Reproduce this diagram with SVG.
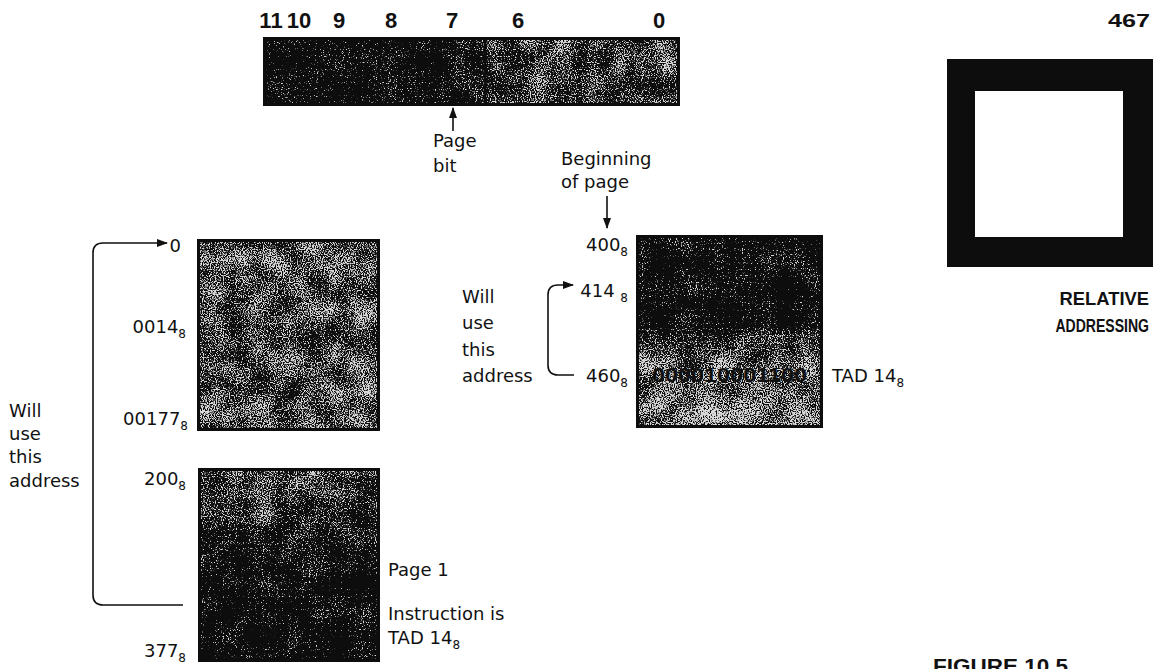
<svg xmlns="http://www.w3.org/2000/svg" width="1159" height="669" viewBox="0 0 1159 669">
<style>
.t{font-family:"DejaVu Sans","Liberation Sans",sans-serif;font-size:18px;fill:#111}
.s{font-size:12px}
.b{font-family:"Liberation Sans",Arial,sans-serif;font-weight:bold;fill:#111}
.ln{fill:none;stroke:#111;stroke-width:1.6}
</style>
<defs>
<marker id="ah" markerUnits="userSpaceOnUse" markerWidth="11" markerHeight="8" refX="10" refY="4" orient="auto">
<path d="M0,0 L11,4 L0,8 z" fill="#111"/>
</marker>
<filter id="grain" x="0" y="0" width="1" height="1" color-interpolation-filters="sRGB">
<feTurbulence type="fractalNoise" baseFrequency="0.85" numOctaves="1" seed="3" result="f0"/>
<feColorMatrix in="f0" type="matrix" values="1 0 0 0 0 0 1 0 0 0 0 0 1 0 0 0 0 0 0 1" result="f"/>
<feTurbulence type="fractalNoise" baseFrequency="0.04" numOctaves="2" seed="8" result="c0"/>
<feColorMatrix in="c0" type="matrix" values="1 0 0 0 0 0 1 0 0 0 0 0 1 0 0 0 0 0 0 1" result="c"/>
<feComposite in="f" in2="c" operator="arithmetic" k2="0.6" k3="0.2" result="t"/>
<feComposite in="t" in2="SourceGraphic" operator="arithmetic" k2="1" k3="0.25" result="u"/>
<feColorMatrix in="u" type="matrix" values="0 0 0 0 0.85 0 0 0 0 0.85 0 0 0 0 0.85 14 0 0 0 -7.3"/>
</filter>
<linearGradient id="gReg" x1="0" y1="0" x2="1" y2="0">
<stop offset="0" stop-color="#262626"/><stop offset="0.5" stop-color="#333"/>
<stop offset="0.53" stop-color="#707070"/><stop offset="1" stop-color="#7a7a7a"/>
</linearGradient>
<linearGradient id="gA" x1="0" y1="0" x2="0" y2="1">
<stop offset="0" stop-color="#8a8a8a"/><stop offset="0.5" stop-color="#7a7a7a"/><stop offset="1" stop-color="#8a8a8a"/>
</linearGradient>
<linearGradient id="gB" x1="0" y1="0" x2="0" y2="1">
<stop offset="0" stop-color="#858585"/><stop offset="0.3" stop-color="#555"/>
<stop offset="0.6" stop-color="#2a2a2a"/><stop offset="1" stop-color="#222"/>
</linearGradient>
<linearGradient id="gC" x1="0" y1="0" x2="0" y2="1">
<stop offset="0" stop-color="#353535"/><stop offset="0.45" stop-color="#252525"/>
<stop offset="0.65" stop-color="#959595"/><stop offset="1" stop-color="#a0a0a0"/>
</linearGradient>
</defs>

<g id="register">
<rect x="263" y="37" width="417" height="69" fill="#0d0d0d"/>
<rect x="266" y="40" width="411" height="63" fill="url(#gReg)" filter="url(#grain)"/>
<line x1="485" y1="37" x2="485" y2="106" stroke="#0d0d0d" stroke-width="3"/>
<line x1="418" y1="40" x2="418" y2="103" stroke="#0d0d0d" stroke-width="1.5" opacity="0.6"/>
<line x1="360" y1="40" x2="360" y2="103" stroke="#0d0d0d" stroke-width="1.5" opacity="0.5"/>
<g class="b" font-size="22" text-anchor="middle">
<text x="271" y="28">11</text>
<text x="299" y="28">10</text>
<text x="339" y="28">9</text>
<text x="391" y="28">8</text>
<text x="452" y="28">7</text>
<text x="518" y="28">6</text>
<text x="659" y="28">0</text>
</g>
</g>

<g id="page-bit-label">
<text class="t" x="433" y="147">Page</text>
<text class="t" x="433" y="172">bit</text>
</g>

<g id="beginning-label">
<text class="t" x="561" y="165">Beginning</text>
<text class="t" x="561" y="188">of page</text>
</g>

<g id="page0-block">
<rect x="197" y="239" width="183" height="192" fill="#0d0d0d"/>
<rect x="200" y="242" width="177" height="186" fill="url(#gA)" filter="url(#grain)"/>
<text class="t" x="181" y="252" text-anchor="end">0</text>
<text class="t" x="186" y="333" text-anchor="end">0014<tspan class="s" dy="5">8</tspan></text>
<text class="t" x="188" y="425" text-anchor="end">00177<tspan class="s" dy="5">8</tspan></text>
</g>

<g id="page1-block">
<rect x="198" y="468" width="182" height="194" fill="#0d0d0d"/>
<rect x="201" y="471" width="176" height="188" fill="url(#gB)" filter="url(#grain)"/>
<text class="t" x="186" y="485" text-anchor="end">200<tspan class="s" dy="5">8</tspan></text>
<text class="t" x="186" y="657" text-anchor="end">377<tspan class="s" dy="5">8</tspan></text>
<text class="t" x="388" y="576">Page 1</text>
<text class="t" x="388" y="620">Instruction is</text>
<text class="t" x="388" y="644">TAD 14<tspan class="s" dy="5">8</tspan></text>
</g>

<g id="left-note">
<text class="t" x="9" y="417">Will</text>
<text class="t" x="9" y="440">use</text>
<text class="t" x="9" y="463">this</text>
<text class="t" x="9" y="487">address</text>
</g>

<g id="page2-block">
<rect x="636" y="235" width="187" height="193" fill="#0d0d0d"/>
<rect x="639" y="238" width="181" height="187" fill="url(#gC)" filter="url(#grain)"/>
<text class="b" x="652" y="382" font-size="20" textLength="155" lengthAdjust="spacingAndGlyphs" fill="#000">000010001100</text>
<text class="t" x="628" y="251" text-anchor="end">400<tspan class="s" dy="5">8</tspan></text>
<text class="t" x="628" y="297" text-anchor="end">414 <tspan class="s" dy="5">8</tspan></text>
<text class="t" x="628" y="382" text-anchor="end">460<tspan class="s" dy="5">8</tspan></text>
<text class="t" x="832" y="382">TAD 14<tspan class="s" dy="5">8</tspan></text>
</g>

<g id="right-note">
<text class="t" x="462" y="303">Will</text>
<text class="t" x="462" y="329">use</text>
<text class="t" x="462" y="356">this</text>
<text class="t" x="462" y="382">address</text>
</g>

<g id="connectors">
<path class="ln" d="M453,131 V108" marker-end="url(#ah)"/>
<path class="ln" d="M607,196 V228" marker-end="url(#ah)"/>
<path class="ln" d="M183,605 H103 Q93,605 93,595 V253 Q93,243 103,243 H167" marker-end="url(#ah)"/>
<path class="ln" d="M574,375 H558 Q548,375 548,365 V295 Q548,285 558,285 H573" marker-end="url(#ah)"/>
</g>

<g id="side-icon">
<path d="M947,59 H1153 V267 H947 Z M975,91 V237 H1123 V91 Z" fill="#0d0d0d" fill-rule="evenodd"/>
<text class="b" x="1150" y="27" font-size="18" text-anchor="end" textLength="42" lengthAdjust="spacingAndGlyphs">467</text>
<text class="b" font-size="18" text-anchor="end" transform="translate(1149,305) scale(1.02,1)">RELATIVE</text>
<text class="b" font-size="18" text-anchor="end" transform="translate(1149,332) scale(0.78,1)">ADDRESSING</text>
<text class="b" x="933" y="673" font-size="21" textLength="135" lengthAdjust="spacingAndGlyphs">FIGURE 10.5</text>
</g>
</svg>
